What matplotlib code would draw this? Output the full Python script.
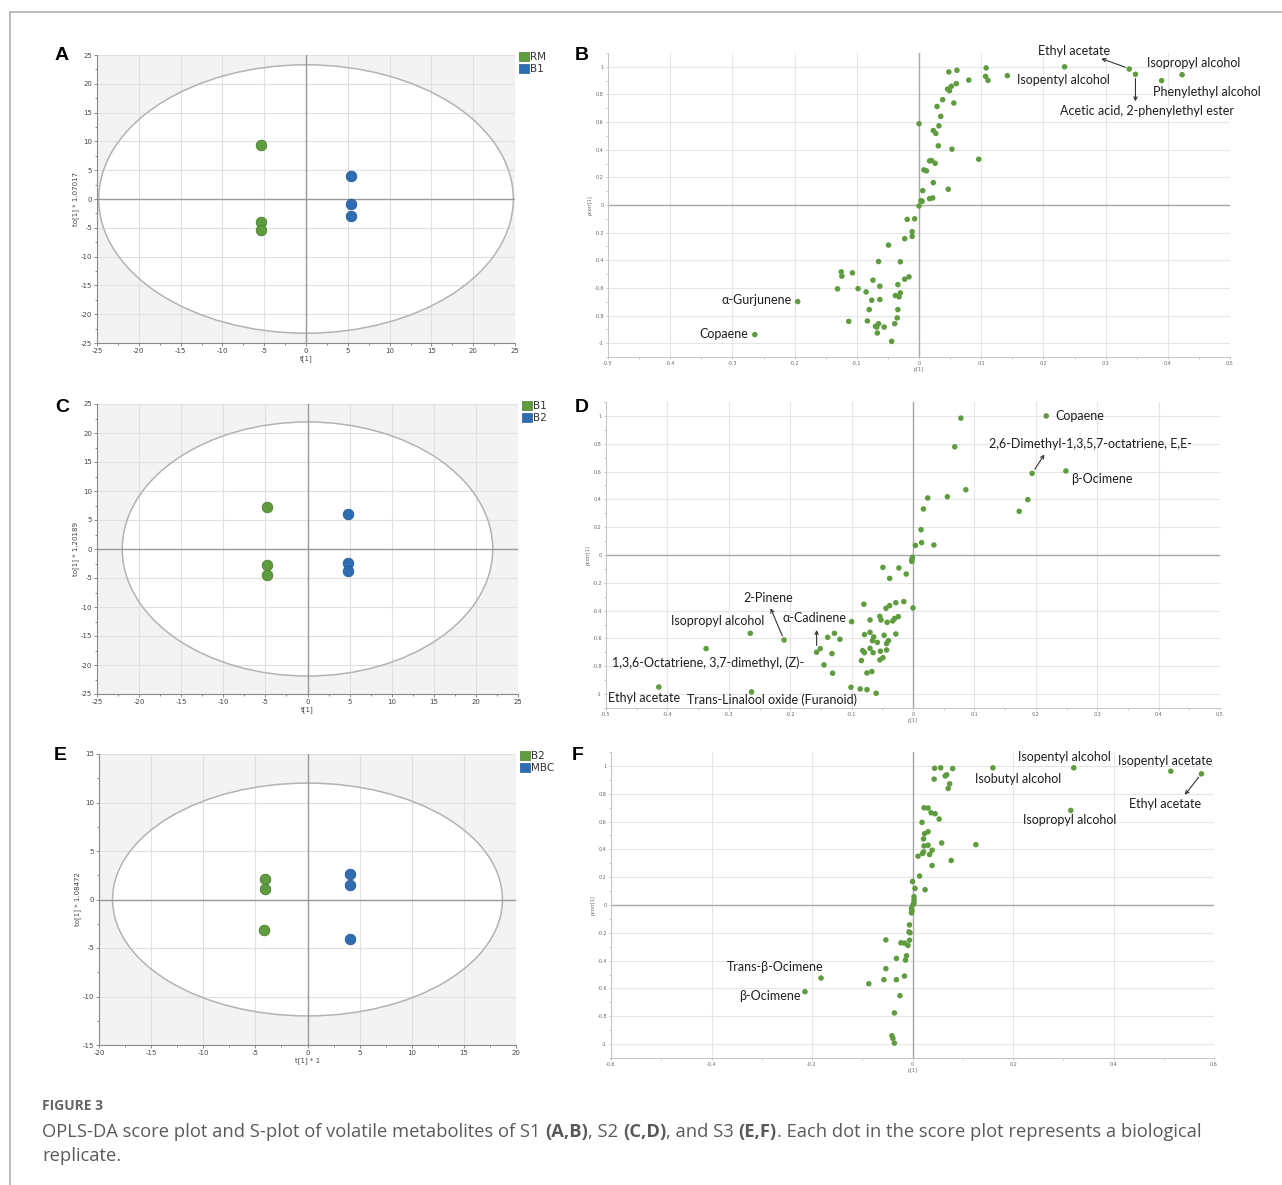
"""OPLS-DA score plots and S-plots (Figure 3)"""

import matplotlib

matplotlib.use("Agg")
import matplotlib.pyplot as plt
from matplotlib.lines import Line2D
from matplotlib.patches import Ellipse, Patch
from matplotlib.ticker import FuncFormatter, MultipleLocator

plt.rcParams["axes.unicode_minus"] = False

W, H = 1282, 1185
GREEN = "#5f9c3f"
GREEN_EDGE = "#4a7f2f"
BLUE = "#2f6db3"
BLUE_EDGE = "#24589a"
LABEL_FONT = ["Lato", "DejaVu Sans"]
CAPTION_FONT = ["Open Sans", "DejaVu Sans"]
CAPTION_GRAY = "#5a5a5a"

# score plot, S1 (RM vs B1)
A_RM_T = [-5.4, -5.4, -5.4]
A_RM_TO = [9.3, -4.0, -5.3]
A_B1_T = [5.4, 5.4, 5.4]
A_B1_TO = [4.0, -0.9, -2.9]

# score plot, S2 (B1 vs B2)
C_B1_T = [-4.8, -4.8, -4.8]
C_B1_TO = [7.2, -2.8, -4.4]
C_B2_T = [4.8, 4.8, 4.8]
C_B2_TO = [6.1, -2.4, -3.8]

# score plot, S3 (B2 vs MBC)
E_B2_T = [-4.1, -4.1, -4.2]
E_B2_TO = [2.1, 1.1, -3.1]
E_MBC_T = [4.1, 4.1, 4.1]
E_MBC_TO = [2.6, 1.5, -4.1]

# S-plot, S1
B_P = [0.048, 0.061, 0.108, 0.234, 0.338, 0.348, 0.390, 0.423, 0.107, 0.111,
       0.142, 0.080, 0.060, 0.052, 0.046, 0.049, 0.038, 0.056, 0.029, 0.035,
       0.000, 0.032, 0.023, 0.027, 0.031, 0.053, 0.096, 0.020, 0.017, 0.026,
       0.008, 0.012, 0.023, 0.047, 0.006, 0.022, 0.017, 0.003, 0.005, 0.000,
       -0.007, -0.019, -0.011, -0.011, -0.023, -0.049, -0.065, -0.030, -0.125,
       -0.124, -0.107, -0.074, -0.016, -0.023, -0.034, -0.063, -0.131, -0.098,
       -0.085, -0.030, -0.038, -0.032, -0.195, -0.076, -0.063, -0.080, -0.034,
       -0.113, -0.083, -0.035, -0.065, -0.068, -0.056, -0.070, -0.039, -0.067,
       -0.264, -0.044]
B_PCORR = [0.963, 0.975, 0.992, 1.000, 0.984, 0.946, 0.900, 0.943, 0.931, 0.902,
           0.936, 0.904, 0.878, 0.859, 0.839, 0.827, 0.762, 0.738, 0.713, 0.641,
           0.588, 0.573, 0.539, 0.518, 0.428, 0.404, 0.331, 0.322, 0.319, 0.302,
           0.254, 0.247, 0.162, 0.114, 0.104, 0.051, 0.046, 0.031, 0.027, -0.007,
           -0.100, -0.104, -0.193, -0.227, -0.244, -0.290, -0.409, -0.411, -0.484,
           -0.515, -0.491, -0.544, -0.520, -0.537, -0.576, -0.588, -0.607, -0.605,
           -0.629, -0.636, -0.655, -0.665, -0.699, -0.689, -0.684, -0.757, -0.757,
           -0.842, -0.839, -0.817, -0.859, -0.883, -0.883, -0.878, -0.859, -0.926,
           -0.938, -0.987]

# S-plot, S2
D_P = [0.078, 0.217, 0.068, 0.194, 0.249, 0.086, 0.056, 0.024, 0.017, 0.187,
       0.173, 0.013, 0.004, 0.014, 0.034, -0.001, -0.002, -0.002, -0.049, -0.023,
       -0.011, -0.038, -0.080, -0.015, -0.028, -0.038, -0.044, 0.000, -0.100,
       -0.070, -0.054, -0.052, -0.042, -0.033, -0.030, -0.024, -0.070, -0.079,
       -0.047, -0.028, -0.064, -0.066, -0.058, -0.040, -0.043, -0.128, -0.139,
       -0.119, -0.210, -0.265, -0.337, -0.157, -0.151, -0.132, -0.070, -0.082,
       -0.079, -0.053, -0.043, -0.065, -0.054, -0.049, -0.084, -0.145, -0.131,
       -0.075, -0.067, -0.414, -0.263, -0.101, -0.086, -0.075, -0.060]
D_PCORR = [0.984, 1.000, 0.778, 0.587, 0.604, 0.469, 0.419, 0.410, 0.331, 0.398,
           0.314, 0.182, 0.069, 0.089, 0.072, -0.017, -0.034, -0.046, -0.089,
           -0.093, -0.137, -0.168, -0.354, -0.335, -0.343, -0.364, -0.383, -0.381,
           -0.479, -0.467, -0.441, -0.467, -0.484, -0.474, -0.457, -0.443, -0.556,
           -0.572, -0.577, -0.568, -0.589, -0.616, -0.628, -0.616, -0.637, -0.563,
           -0.592, -0.606, -0.611, -0.563, -0.673, -0.699, -0.673, -0.709, -0.671,
           -0.687, -0.702, -0.692, -0.683, -0.702, -0.754, -0.738, -0.759, -0.790,
           -0.850, -0.848, -0.838, -0.949, -0.984, -0.951, -0.963, -0.968, -0.994]

# S-plot, S3
F_P = [0.044, 0.056, 0.080, 0.160, 0.321, 0.514, 0.575, 0.043, 0.065, 0.068,
       0.074, 0.071, 0.315, 0.023, 0.031, 0.037, 0.045, 0.053, 0.019, 0.024,
       0.031, 0.022, 0.023, 0.031, 0.058, 0.126, 0.039, 0.022, 0.020, 0.034,
       0.011, 0.077, 0.039, 0.014, 0.000, 0.005, 0.025, 0.003, 0.003, 0.003,
       0.001, -0.002, -0.001, -0.002, -0.006, -0.007, -0.005, -0.006, -0.053,
       -0.023, -0.016, -0.009, -0.012, -0.014, -0.032, -0.053, -0.016, -0.057,
       -0.032, -0.087, -0.182, -0.214, -0.025, -0.036, -0.041, -0.039, -0.036]
F_PCORR = [0.983, 0.986, 0.981, 0.986, 0.986, 0.962, 0.943, 0.905, 0.928, 0.936,
           0.871, 0.838, 0.680, 0.699, 0.697, 0.663, 0.656, 0.618, 0.594, 0.513,
           0.527, 0.475, 0.425, 0.430, 0.446, 0.434, 0.394, 0.382, 0.370, 0.363,
           0.351, 0.320, 0.284, 0.208, 0.169, 0.119, 0.110, 0.060, 0.036, 0.014,
           0.002, -0.024, -0.041, -0.057, -0.143, -0.193, -0.200, -0.253, -0.251,
           -0.272, -0.274, -0.291, -0.365, -0.396, -0.384, -0.458, -0.511, -0.537,
           -0.537, -0.566, -0.525, -0.623, -0.652, -0.776, -0.940, -0.959, -0.993]


def add_axes_px(fig, left, top, right, bottom):
    """ピクセル座標で軸を追加"""
    return fig.add_axes([left / W, 1 - bottom / H,
                         (right - left) / W, (bottom - top) / H])


def fmt_tick(v, _pos):
    return f"{round(v, 2):g}"


def score_plot(ax, lim_x, lim_y, ell, groups, names, xlabel, ylabel):
    """OPLS-DAスコアプロット"""
    ax.set_facecolor("#f3f3f3")
    ax.add_patch(Ellipse((0, 0), 2 * ell[0], 2 * ell[1],
                         facecolor="white", edgecolor="none", zorder=0.1))
    ax.add_patch(Ellipse((0, 0), 2 * ell[0], 2 * ell[1],
                         facecolor="none", edgecolor="#b3b3b3", lw=1.1, zorder=1.5))
    ax.axhline(0, color="#9a9a9a", lw=1.0, zorder=1.6)
    ax.axvline(0, color="#9a9a9a", lw=1.0, zorder=1.6)
    ax.set_axisbelow(True)
    ax.grid(True, color="#e0e0e0", lw=0.8)

    colors = [(GREEN, GREEN_EDGE), (BLUE, BLUE_EDGE)]
    for (tx, ty), (fc, ec) in zip(groups, colors):
        ax.scatter(tx, ty, s=58, color=fc, edgecolors=ec, linewidths=0.6, zorder=3)

    ax.set_xlim(-lim_x, lim_x)
    ax.set_ylim(-lim_y, lim_y)
    ax.xaxis.set_major_locator(MultipleLocator(5))
    ax.yaxis.set_major_locator(MultipleLocator(5))
    ax.xaxis.set_minor_locator(MultipleLocator(2.5))
    ax.yaxis.set_minor_locator(MultipleLocator(2.5))
    ax.tick_params(which="both", labelsize=5, colors="#7a7a7a", labelcolor="#444444",
                   length=2, width=0.6, pad=1.5)
    ax.tick_params(which="minor", length=1.5)
    for side in ("top", "right"):
        ax.spines[side].set_visible(False)
    for side in ("left", "bottom"):
        ax.spines[side].set_color("#8a8a8a")
        ax.spines[side].set_linewidth(0.8)
    ax.set_xlabel(xlabel, fontsize=5, color="#444444", labelpad=1)
    ax.set_ylabel(ylabel, fontsize=5, color="#444444", labelpad=1)

    handles = [Patch(facecolor=GREEN, edgecolor=GREEN_EDGE, lw=0.5),
               Patch(facecolor=BLUE, edgecolor=BLUE_EDGE, lw=0.5)]
    leg = ax.legend(handles, names, loc="upper left", bbox_to_anchor=(1.01, 1.01),
                    frameon=False, fontsize=7.5, handlelength=0.9, handleheight=0.9,
                    handletextpad=0.15, labelspacing=0.2, borderaxespad=0,
                    borderpad=0)
    for t in leg.get_texts():
        t.set_color("#333333")


def s_plot(ax, p, pcorr, lim_x, x_step, x_minor):
    """S-plot"""
    ax.set_xlim(-lim_x, lim_x)
    ax.set_ylim(-1.1, 1.1)
    ax.set_axisbelow(True)
    ax.grid(True, color="#e6e6e6", lw=0.8)
    ax.axhline(0, color="#a8a8a8", lw=1.0, zorder=1.6)
    ax.axvline(0, color="#a8a8a8", lw=1.0, zorder=1.6)
    ax.scatter(p, pcorr, s=16, color=GREEN, edgecolors="none", zorder=3)

    ax.xaxis.set_major_locator(MultipleLocator(x_step))
    ax.xaxis.set_minor_locator(MultipleLocator(x_minor))
    ax.yaxis.set_major_locator(MultipleLocator(0.2))
    ax.yaxis.set_minor_locator(MultipleLocator(0.1))
    ax.xaxis.set_major_formatter(FuncFormatter(fmt_tick))
    ax.yaxis.set_major_formatter(FuncFormatter(fmt_tick))
    ax.tick_params(which="both", labelsize=3.5, colors="#b0b0b0", labelcolor="#666666",
                   length=1.5, width=0.5, pad=1.5)
    for side in ("top", "right"):
        ax.spines[side].set_visible(False)
    for side in ("left", "bottom"):
        ax.spines[side].set_color("#c4c4c4")
        ax.spines[side].set_linewidth(0.7)
    ax.set_xlabel("p[1]", fontsize=3.5, color="#666666", labelpad=0.5)
    ax.set_ylabel("pcorr[1]", fontsize=3.5, color="#666666", labelpad=1)


def label(ax, x, y, text, ha="center"):
    ax.text(x, y, text, ha=ha, va="center", fontsize=9, color="#1e1e1e",
            family=LABEL_FONT, clip_on=False, zorder=4)


def arrow(ax, x0, y0, x1, y1):
    ax.annotate("", xy=(x1, y1), xytext=(x0, y0),
                arrowprops=dict(arrowstyle="->", color="#333333", lw=0.8,
                                shrinkA=2, shrinkB=0, mutation_scale=6),
                annotation_clip=False, zorder=4)


def draw_runs(fig, x_px, y_px, runs, size):
    """太字を含む一行のテキストを順に描く"""
    renderer = fig.canvas.get_renderer()
    x = x_px
    for text, weight in runs:
        t = fig.text(x / W, 1 - y_px / H, text, fontsize=size, color=CAPTION_GRAY,
                     family=CAPTION_FONT, weight=weight, ha="left", va="center")
        x += t.get_window_extent(renderer).width


fig = plt.figure(figsize=(W / 100, H / 100), dpi=100)
fig.patch.set_facecolor("white")

# 外枠（上と左）
fig.add_artist(Line2D([10 / W, 1], [1 - 12 / H, 1 - 12 / H], color="#b0b0b0", lw=1.2))
fig.add_artist(Line2D([10 / W, 10 / W], [1 - 12 / H, 0], color="#b0b0b0", lw=1.2))

ax_a = add_axes_px(fig, 97, 55, 515, 343)
score_plot(ax_a, 25, 25, (24.8, 23.3),
           [(A_RM_T, A_RM_TO), (A_B1_T, A_B1_TO)], ["RM", "B1"],
           "t[1]", "to[1] * 1.07017")

ax_c = add_axes_px(fig, 97, 404, 518, 694)
score_plot(ax_c, 25, 25, (22.0, 21.9),
           [(C_B1_T, C_B1_TO), (C_B2_T, C_B2_TO)], ["B1", "B2"],
           "t[1]", "to[1] * 1.20189")

ax_e = add_axes_px(fig, 99, 754, 516, 1045)
score_plot(ax_e, 20, 15, (18.7, 12.0),
           [(E_B2_T, E_B2_TO), (E_MBC_T, E_MBC_TO)], ["B2", "MBC"],
           "t[1] * 1", "to[1] * 1.08472")

# S1
ax_b = add_axes_px(fig, 608, 53, 1230, 357)
s_plot(ax_b, B_P, B_PCORR, 0.5, 0.1, 0.05)
label(ax_b, 0.249, 1.113, "Ethyl acetate")
label(ax_b, 0.442, 1.03, "Isopropyl alcohol")
label(ax_b, 0.232, 0.902, "Isopentyl alcohol")
label(ax_b, 0.376, 0.815, "Phenylethyl alcohol", ha="left")
label(ax_b, 0.366, 0.682, "Acetic acid, 2-phenylethyl ester")
label(ax_b, -0.204, -0.69, "α-Gurjunene", ha="right")
label(ax_b, -0.274, -0.93, "Copaene", ha="right")
arrow(ax_b, 0.336, 0.99, 0.293, 1.06)
arrow(ax_b, 0.348, 0.935, 0.348, 0.75)

# S2
ax_d = add_axes_px(fig, 606, 402, 1220, 708)
s_plot(ax_d, D_P, D_PCORR, 0.5, 0.1, 0.05)
label(ax_d, 0.232, 1.0, "Copaene", ha="left")
label(ax_d, 0.124, 0.798, "2,6-Dimethyl-1,3,5,7-octatriene, E,E-", ha="left")
label(ax_d, 0.258, 0.548, "β-Ocimene", ha="left")
label(ax_d, -0.235, -0.311, "2-Pinene")
label(ax_d, -0.318, -0.474, "Isopropyl alcohol")
label(ax_d, -0.160, -0.455, "α-Cadinene")
label(ax_d, -0.490, -0.771, "1,3,6-Octatriene, 3,7-dimethyl, (Z)-", ha="left")
label(ax_d, -0.438, -1.03, "Ethyl acetate")
label(ax_d, -0.230, -1.042, "Trans-Linalool oxide (Furanoid)")
arrow(ax_d, 0.196, 0.60, 0.214, 0.723)
arrow(ax_d, -0.211, -0.60, -0.232, -0.383)
arrow(ax_d, -0.157, -0.67, -0.157, -0.539)

# S3
ax_f = add_axes_px(fig, 611, 752, 1214, 1058)
s_plot(ax_f, F_P, F_PCORR, 0.6, 0.2, 0.1)
label(ax_f, 0.302, 1.062, "Isopentyl alcohol")
label(ax_f, 0.502, 1.038, "Isopentyl acetate")
label(ax_f, 0.211, 0.907, "Isobutyl alcohol")
label(ax_f, 0.502, 0.728, "Ethyl acetate")
label(ax_f, 0.313, 0.609, "Isopropyl alcohol")
label(ax_f, -0.273, -0.446, "Trans-β-Ocimene")
label(ax_f, -0.284, -0.656, "β-Ocimene")
arrow(ax_f, 0.573, 0.935, 0.542, 0.792)

# パネル記号
for letter, x, y in [("A", 62, 55), ("B", 582, 55), ("C", 62, 407),
                     ("D", 582, 407), ("E", 60, 756), ("F", 578, 756)]:
    fig.text(x / W, 1 - y / H, letter, fontsize=14, weight="bold",
             family="Liberation Sans", ha="center", va="center", color="black")

# キャプション
fig.text(42 / W, 1 - 1106 / H, "FIGURE 3", fontsize=10, weight="bold",
         color="#666666", family=CAPTION_FONT, ha="left", va="center")
draw_runs(fig, 42, 1132, [
    ("OPLS-DA score plot and S-plot of volatile metabolites of S1 ", "normal"),
    ("(A,B)", "bold"), (", S2 ", "normal"), ("(C,D)", "bold"),
    (", and S3 ", "normal"), ("(E,F)", "bold"),
    (". Each dot in the score plot represents a biological", "normal")], 13.2)
draw_runs(fig, 42, 1156, [("replicate.", "normal")], 13.2)

fig.savefig("out.png", dpi=100, facecolor="white")
